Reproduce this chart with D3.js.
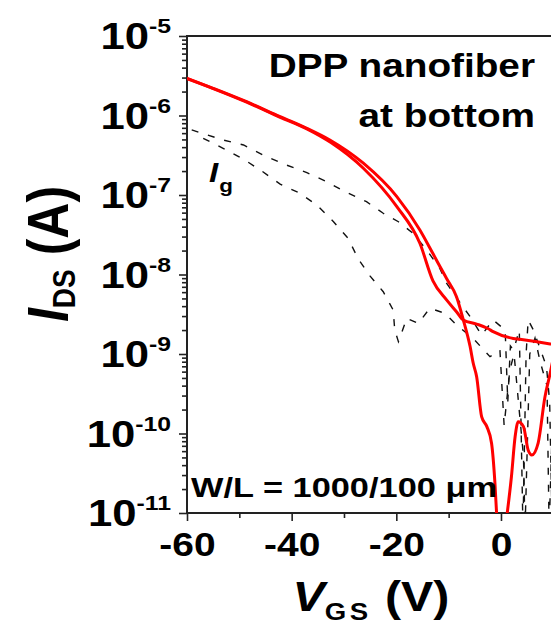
<!DOCTYPE html>
<html>
<head>
<meta charset="utf-8">
<script src="https://cdn.jsdelivr.net/npm/d3@7"></script>
<style>
  body { margin: 0; background: #fff; }
  svg { display: block; font-family: "Liberation Sans", Arial, sans-serif; font-weight: bold; }
</style>
</head>
<body>
<div id="chart"></div>
<script>
// red I_DS sweeps (V, A)
const vgsOuter = [-60, -55, -48.6, -42.2, -37.1, -32.7, -26.3, -19.9, -15.5, -12.9, -11, -10.4, -8.5, -7.2, -5.9, -5.3, -4.65, -3.7, -2.7, -1.8, -1.15, -0.8, 0.1, 1.1, 2.0, 2.7, 3.3, 4.3, 5.2, 5.9, 7.1, 8.4, 9.4, 10];
const idsOuter = [2.94e-6, 2.20e-6, 1.49e-6, 9.66e-7, 6.90e-7, 4.92e-7, 2.51e-7, 9.53e-8, 3.63e-8, 1.78e-8, 1.05e-8, 8.91e-9, 5.25e-9, 2.69e-9, 1.24e-9, 7.64e-10, 5.18e-10, 1.63e-10, 1.22e-10, 7.53e-11, 2.34e-11, 8.9e-12, 3e-12, 8.9e-12, 2.88e-11, 9.1e-11, 1.41e-10, 1.22e-10, 6.17e-11, 5.37e-11, 7.59e-11, 2.88e-10, 5.71e-10, 8.9e-10];

const vgsInner = [-60, -55, -48.6, -42.2, -37.1, -32.5, -26.3, -19.9, -15.5, -13, -10.4, -8.5, -7.2, -4.65, -2.5, -1.5, 2.35, 3.6, 9.4, 10];
const idsInner = [2.90e-6, 2.18e-6, 1.47e-6, 9.50e-7, 6.80e-7, 4.57e-7, 2.17e-7, 7.13e-8, 2.47e-8, 8.32e-9, 4.79e-9, 3.40e-9, 2.68e-9, 2.38e-9, 2.09e-9, 1.91e-9, 1.57e-9, 1.53e-9, 1.34e-9, 1.32e-9];

// dashed gate leakage I_g
const vgsGateA = [-59.1, -53.1, -49.2, -44.8, -41, -37.1, -33.3, -29.8, -25.7, -22.5, -19.6, -16.8, -14.2, -11.7, -10.4, -7.5, -5.9, -3.7, -1.5, 0.8, 1.3, 1.8, 2.4, 3.5, 4.2, 4.8, 5.2, 6.2, 7.8, 8.7, 9.3, 9.8];
const igGateA = [6.58e-7, 4.92e-7, 4.26e-7, 3.03e-7, 2.38e-7, 1.91e-7, 1.47e-7, 1.10e-7, 8.24e-8, 5.89e-8, 4.61e-8, 3.30e-8, 2.03e-8, 1.20e-8, 7.76e-9, 4.13e-9, 2.95e-9, 1.73e-9, 2.68e-9, 2.00e-9, 2.5e-10, 1.26e-9, 1.12e-9, 2.0e-9, 6.3e-12, 1.0e-9, 2.68e-9, 2.00e-9, 1.02e-9, 6.9e-10, 2.5e-10, 6.3e-12];

const vgsGateB = [-56.9, -53.1, -49.2, -45.7, -42.2, -38.4, -35.2, -32, -29.2, -27.3, -25, -22.5, -20.6, -20.3, -19.6, -18, -15.8, -13.6, -10.7, -8.5, -5.3, -2.1, -0.2, 0.6, 1.7, 2.5, 3.6, 4.3, 4.6, 5.5, 6.5, 7.5, 8.8, 9.2, 10];
const igGateB = [5.16e-7, 3.86e-7, 2.82e-7, 2.00e-7, 1.37e-7, 1.05e-7, 7.48e-8, 4.61e-8, 2.85e-8, 1.58e-8, 9.55e-9, 6.08e-9, 3.57e-9, 2.00e-9, 1.43e-9, 2.81e-9, 2.43e-9, 3.76e-9, 3.25e-9, 2.32e-9, 1.57e-9, 9.25e-10, 1.12e-9, 1.26e-10, 6.31e-10, 1.0e-9, 1.62e-10, 5.13e-11, 6.3e-12, 1.0e-9, 1.58e-9, 7.94e-10, 3.98e-10, 6.3e-12, 3.16e-10];

const xMajor = [-60, -40, -20, 0];
const xMinor = [-50, -30, -10, 10];
const yExponents = [-5, -6, -7, -8, -9, -10, -11];

const width = 551, height = 628;
const plotLeft = 187, plotTop = 36, plotBottom = 513;
const stretch = 1.18; // the original figure's lettering is wide

const svg = d3.select("#chart").append("svg")
  .attr("width", width)
  .attr("height", height);

const x = d3.scaleLinear().domain([-60, 10]).range([plotLeft, plotLeft + 70 * 5.233]);
const y = d3.scaleLog().domain([1e-11, 1e-5]).range([plotBottom, plotTop]);

svg.append("defs").append("clipPath").attr("id", "plot")
  .append("rect")
  .attr("x", plotLeft).attr("y", plotTop)
  .attr("width", x(10) - plotLeft).attr("height", plotBottom - plotTop);

// frame
svg.append("rect")
  .attr("x", plotLeft).attr("y", plotTop)
  .attr("width", x(10) - plotLeft).attr("height", plotBottom - plotTop)
  .attr("fill", "none").attr("stroke", "#222").attr("stroke-width", 2);

// x ticks
const gx = svg.append("g").attr("transform", `translate(0,${plotBottom})`);
gx.call(d3.axisBottom(x).tickValues(xMajor).tickSize(8).tickSizeOuter(0).tickFormat(d => String(d)));
gx.append("g").call(d3.axisBottom(x).tickValues(xMinor).tickSize(5).tickSizeOuter(0).tickFormat(""));
gx.selectAll("path.domain").remove();
gx.selectAll("line").attr("stroke", "#222").attr("stroke-width", 1.6);
gx.selectAll("text")
  .attr("y", 43).attr("dy", null)
  .attr("transform", `scale(${stretch},1)`)
  .attr("fill", "#000")
  .style("font-size", "33px")
  .style("font-family", "'Liberation Sans', Arial, sans-serif")
  .style("font-weight", "bold");

// y ticks (log minor)
const minorY = [];
for (let e = -11; e < -5; e++) for (let k = 2; k <= 9; k++) minorY.push(k * Math.pow(10, e));
const gy = svg.append("g").attr("transform", `translate(${plotLeft},0)`);
gy.call(d3.axisLeft(y).tickValues(yExponents.map(e => Math.pow(10, e))).tickSize(8).tickSizeOuter(0).tickFormat(""));
gy.append("g").call(d3.axisLeft(y).tickValues(minorY).tickSize(5).tickSizeOuter(0).tickFormat(""));
gy.selectAll("path.domain").remove();
gy.selectAll("line").attr("stroke", "#222").attr("stroke-width", 1.6);

// y tick labels with superscripts
const ylab = svg.append("g");
yExponents.forEach(e => {
  const t = ylab.append("text")
    .attr("transform", `translate(171,${y(Math.pow(10, e)) + 13}) scale(${stretch},1)`)
    .attr("text-anchor", "end");
  t.append("tspan").style("font-size", "37px").text("10");
  t.append("tspan").style("font-size", "21px").attr("dy", -16).text(String(e));
});

// data lines
const plot = svg.append("g").attr("clip-path", "url(#plot)");
const lineDash = d3.line().x(d => x(d[0])).y(d => y(d[1]));
const lineSmooth = d3.line().x(d => x(d[0])).y(d => y(d[1])).curve(d3.curveMonotoneX);

function series(vs, is) { return vs.map((v, i) => [v, is[i]]); }

[[vgsGateA, igGateA], [vgsGateB, igGateB]].forEach(([v, i]) => {
  plot.append("path")
    .attr("d", lineDash(series(v, i)))
    .attr("fill", "none")
    .attr("stroke", "#111")
    .attr("stroke-width", 1.4)
    .attr("stroke-dasharray", "7,10");
});

[[vgsOuter, idsOuter], [vgsInner, idsInner]].forEach(([v, i]) => {
  plot.append("path")
    .attr("d", lineSmooth(series(v, i)))
    .attr("fill", "none")
    .attr("stroke", "#ff0000")
    .attr("stroke-width", 3)
    .attr("stroke-linejoin", "round");
});

// annotations
svg.append("text").attr("transform", `translate(535,77) scale(1.14,1)`).attr("text-anchor", "end")
  .style("font-size", "34px").text("DPP nanofiber");
svg.append("text").attr("transform", `translate(535,127) scale(1.14,1)`).attr("text-anchor", "end")
  .style("font-size", "34px").text("at bottom");

const ig = svg.append("text").attr("transform", `translate(209,182) scale(${stretch},1)`);
ig.append("tspan").style("font-style", "italic").style("font-size", "28px").text("I");
ig.append("tspan").style("font-size", "19px").attr("dy", 10).attr("dx", 1).text("g");

svg.append("text").attr("x", 191).attr("y", 497)
  .style("font-size", "27px")
  .attr("textLength", 306).attr("lengthAdjust", "spacingAndGlyphs")
  .text("W/L = 1000/100  μm");

// axis titles
const yt = svg.append("text")
  .attr("transform", `translate(68,254) scale(1.15,1) rotate(-90)`)
  .attr("text-anchor", "middle");
yt.append("tspan").style("font-style", "italic").style("font-size", "50px").text("I");
yt.append("tspan").style("font-size", "28px").attr("dy", 6).text("DS");
yt.append("tspan").style("font-size", "50px").attr("dy", -6).text(" (A)");

const xt = svg.append("text")
  .attr("transform", `translate(371,611) scale(1.15,1)`)
  .attr("text-anchor", "middle");
xt.append("tspan").style("font-style", "italic").style("font-size", "42px").text("V");
xt.append("tspan").style("font-size", "24px").attr("dy", 9).style("letter-spacing", "3px").text("GS");
xt.append("tspan").style("font-size", "42px").attr("dy", -9).text(" (V)");
</script>
</body>
</html>
